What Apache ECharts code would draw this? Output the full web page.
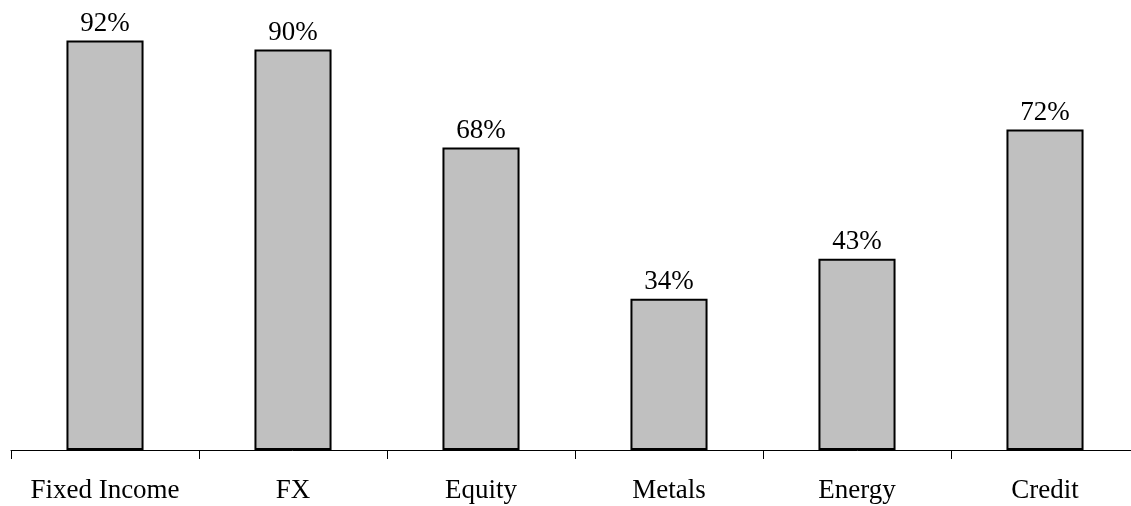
<!DOCTYPE html>
<html>
<head>
<meta charset="utf-8">
<script src="https://cdn.jsdelivr.net/npm/echarts@6/dist/echarts.min.js"></script>
<style>
  html, body { margin: 0; padding: 0; background: #fff; overflow: hidden; }
  /* the plot runs past the right edge, so the last category boundary is cut off */
  #chart { width: 1140px; height: 506px; }
</style>
</head>
<body>
<div id="chart"></div>
<script>
// Share of activity by asset class (percent)
const categories = ['Fixed Income', 'FX', 'Equity', 'Metals', 'Energy', 'Credit'];
const shares = [92, 90, 68, 34, 43, 72];

const serif = '"Liberation Serif", "Times New Roman", serif';

const chart = echarts.init(document.getElementById('chart'));
chart.setOption({
  animation: false,
  backgroundColor: '#ffffff',
  grid: { left: 11, top: 5, right: 1, height: 445, containLabel: false },
  xAxis: {
    type: 'category',
    data: categories,
    boundaryGap: true,
    axisLine: { lineStyle: { color: '#000', width: 1 } },
    axisTick: { show: true, interval: 0, length: 9, lineStyle: { color: '#000', width: 1 } },
    axisLabel: { interval: 0, color: '#000', fontFamily: serif, fontSize: 27, margin: 27 }
  },
  yAxis: {
    type: 'value',
    min: 0,
    max: 100,
    show: false,
    splitLine: { show: false }
  },
  series: [{
    type: 'bar',
    data: shares,
    barWidth: '41%',
    itemStyle: { color: '#c0c0c0', borderColor: '#000', borderWidth: 2 },
    label: {
      show: true,
      position: 'top',
      distance: 3,
      formatter: p => p.value + '%',
      color: '#000',
      fontFamily: serif,
      fontSize: 27
    }
  }]
});
</script>
</body>
</html>
